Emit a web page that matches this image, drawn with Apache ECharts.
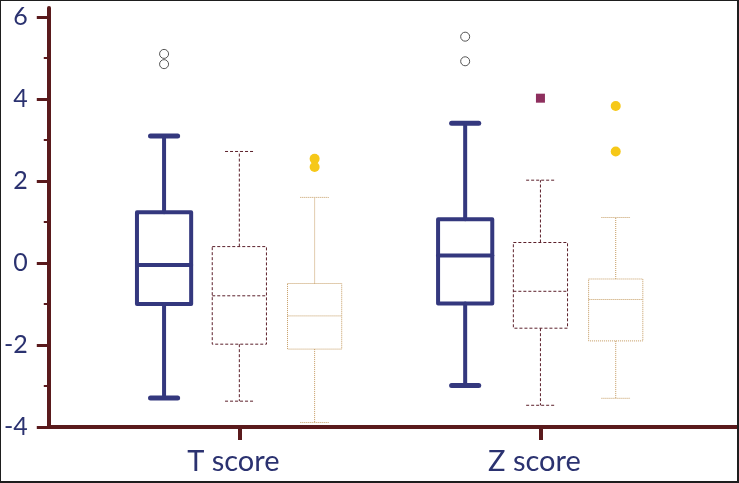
<!DOCTYPE html>
<html>
<head>
<meta charset="utf-8">
<script src="https://cdn.jsdelivr.net/npm/echarts@6/dist/echarts.min.js"></script>
<style>
html,body{margin:0;padding:0;background:#fff;}
#frame{position:absolute;left:0;top:0;width:739px;height:483px;box-sizing:border-box;border-style:solid;border-color:#1e1e1e;border-width:1px 2px 2px 1px;background:#fff;}
#chart{position:absolute;left:0;top:0;width:736px;height:480px;}
</style>
</head>
<body>
<div id="frame"><div id="chart"></div></div>
<script>
// ---- data ----
const categories = ['T score', 'Z score'];
const yTicks = [-4, -2, 0, 2, 4, 6];
// box values per category: [low whisker, Q1, median, Q3, high whisker]
const group1Box = [[-3.29, -1.00, -0.05, 1.24, 3.10], [-2.99, -0.99, 0.18, 1.07, 3.41]];
const group2Box = [[-3.37, -1.98, -0.80, 0.40, 2.72], [-3.47, -1.59, -0.69, 0.50, 2.02]];
const group3Box = [[-3.89, -2.10, -1.29, -0.50, 1.60], [-3.30, -1.90, -0.89, -0.39, 1.11]];
// outliers: [category index, value]
const group1Out = [[0, 5.10], [0, 4.85], [1, 5.52], [1, 4.92]];
const group2Out = [[1, 4.02]];
const group3Out = [[0, 2.54], [0, 2.34], [1, 3.83], [1, 2.72]];

// ---- styles ----
const AXIS = '#5a1a1c';
const LABEL = '#2b3270';
const styles = [
  {off: -0.25, color: '#34387e', width: 4, capWidth: 5, dash: null, cap: 0.09, round: true,
   out: {shape: 'circle', r: 4.5, fill: '#fff', stroke: '#555', lw: 1}},
  {off: 0, color: '#5b1f2a', width: 1, capWidth: 1, dash: [3, 2], cap: 0.095, round: false,
   out: {shape: 'square', r: 4.5, fill: '#8e2f5e', stroke: null, lw: 0}},
  {off: 0.25, color: '#c49a60', width: 1, capWidth: 1, dash: [1, 1], cap: 0.095, round: false,
   out: {shape: 'circle', r: 5, fill: '#f6c818', stroke: null, lw: 0}}
];
const BOX_FRAC = 0.18;

function boxRenderer(st) {
  return function (params, api) {
    const ci = api.value(0);
    const band = api.size([1, 0])[0];
    const cx = api.coord([ci, 0])[0] + st.off * band;
    const y = v => api.coord([ci, v])[1];
    const lo = y(api.value(1)), q1 = y(api.value(2)), md = y(api.value(3)),
          q3 = y(api.value(4)), hi = y(api.value(5));
    const hw = BOX_FRAC * band / 2, cw = st.cap * band / 2;
    const ls = {stroke: st.color, lineWidth: st.width, fill: null,
      lineDash: st.dash, lineJoin: 'round', lineCap: st.round ? 'round' : 'butt'};
    const cs = Object.assign({}, ls, {lineWidth: st.capWidth});
    return {
      type: 'group',
      children: [
        {type: 'line', shape: {x1: cx, y1: q3, x2: cx, y2: hi}, style: ls},
        {type: 'line', shape: {x1: cx, y1: q1, x2: cx, y2: lo}, style: ls},
        {type: 'line', shape: {x1: cx - cw, y1: hi, x2: cx + cw, y2: hi}, style: cs},
        {type: 'line', shape: {x1: cx - cw, y1: lo, x2: cx + cw, y2: lo}, style: cs},
        {type: 'rect', shape: {x: cx - hw, y: q3, width: 2 * hw, height: q1 - q3}, style: ls},
        {type: 'line', shape: {x1: cx - hw, y1: md, x2: cx + hw, y2: md}, style: ls}
      ]
    };
  };
}
function outRenderer(st) {
  return function (params, api) {
    const ci = api.value(0);
    const band = api.size([1, 0])[0];
    const p = api.coord([ci, api.value(1)]);
    const cx = p[0] + st.off * band, cy = p[1];
    const o = st.out;
    const style = {fill: o.fill, stroke: o.stroke, lineWidth: o.lw};
    if (o.shape === 'square') {
      return {type: 'rect', shape: {x: cx - o.r, y: cy - o.r, width: 2 * o.r, height: 2 * o.r}, style};
    }
    return {type: 'circle', shape: {cx, cy, r: o.r}, style};
  };
}

const boxes = [group1Box, group2Box, group3Box];
const outs = [group1Out, group2Out, group3Out];
const series = [];
boxes.forEach((b, i) => {
  series.push({
    type: 'custom', name: 'Group ' + (i + 1), xAxisIndex: 1, yAxisIndex: 1,
    renderItem: boxRenderer(styles[i]),
    encode: {x: 0, y: [1, 2, 3, 4, 5]},
    data: b.map((v, ci) => [ci].concat(v)),
    silent: true
  });
});
outs.forEach((o, i) => {
  series.push({
    type: 'custom', name: 'Group ' + (i + 1) + ' outliers', xAxisIndex: 1, yAxisIndex: 1,
    renderItem: outRenderer(styles[i]),
    encode: {x: 0, y: 1},
    data: o,
    silent: true
  });
});

const chart = echarts.init(document.getElementById('chart'), null, {renderer: 'canvas'});
chart.setOption({
  animation: false,
  backgroundColor: '#fff',
  grid: [
    {left: 48, right: 0, top: 7, bottom: 54},
    {left: 86, right: 46, top: 16, bottom: 54}
  ],
  xAxis: [
    {type: 'value', gridIndex: 0, min: 0, max: 1,
     axisLine: {show: true, onZero: false, lineStyle: {color: AXIS, width: 4}},
     axisTick: {show: false}, axisLabel: {show: false}, splitLine: {show: false}},
    {type: 'category', gridIndex: 1, data: categories, position: 'bottom',
     axisLine: {show: false, onZero: false},
     axisTick: {show: true, alignWithLabel: true, length: 13, lineStyle: {color: AXIS, width: 4}},
     axisLabel: {show: true, margin: 20, color: LABEL, fontFamily: 'Lato', fontSize: 29, padding: [0, 12, 0, 0]},
     splitLine: {show: false}}
  ],
  yAxis: [
    {type: 'value', gridIndex: 0, min: 0, max: 1,
     axisLine: {show: true, onZero: false, lineStyle: {color: AXIS, width: 4}},
     axisTick: {show: false}, axisLabel: {show: false}, splitLine: {show: false}},
    {type: 'value', gridIndex: 1, min: yTicks[0], max: yTicks[yTicks.length - 1], interval: 2,
     offset: 38,
     axisLine: {show: false, onZero: false},
     axisTick: {show: true, length: 14, lineStyle: {color: AXIS, width: 3}},
     minorTick: {show: true, splitNumber: 2, length: 7, lineStyle: {color: AXIS, width: 2}},
     axisLabel: {show: true, margin: 23, color: LABEL, fontFamily: 'Lato', fontSize: 25},
     splitLine: {show: false}, minorSplitLine: {show: false}}
  ],
  series: series
});
</script>
</body>
</html>
